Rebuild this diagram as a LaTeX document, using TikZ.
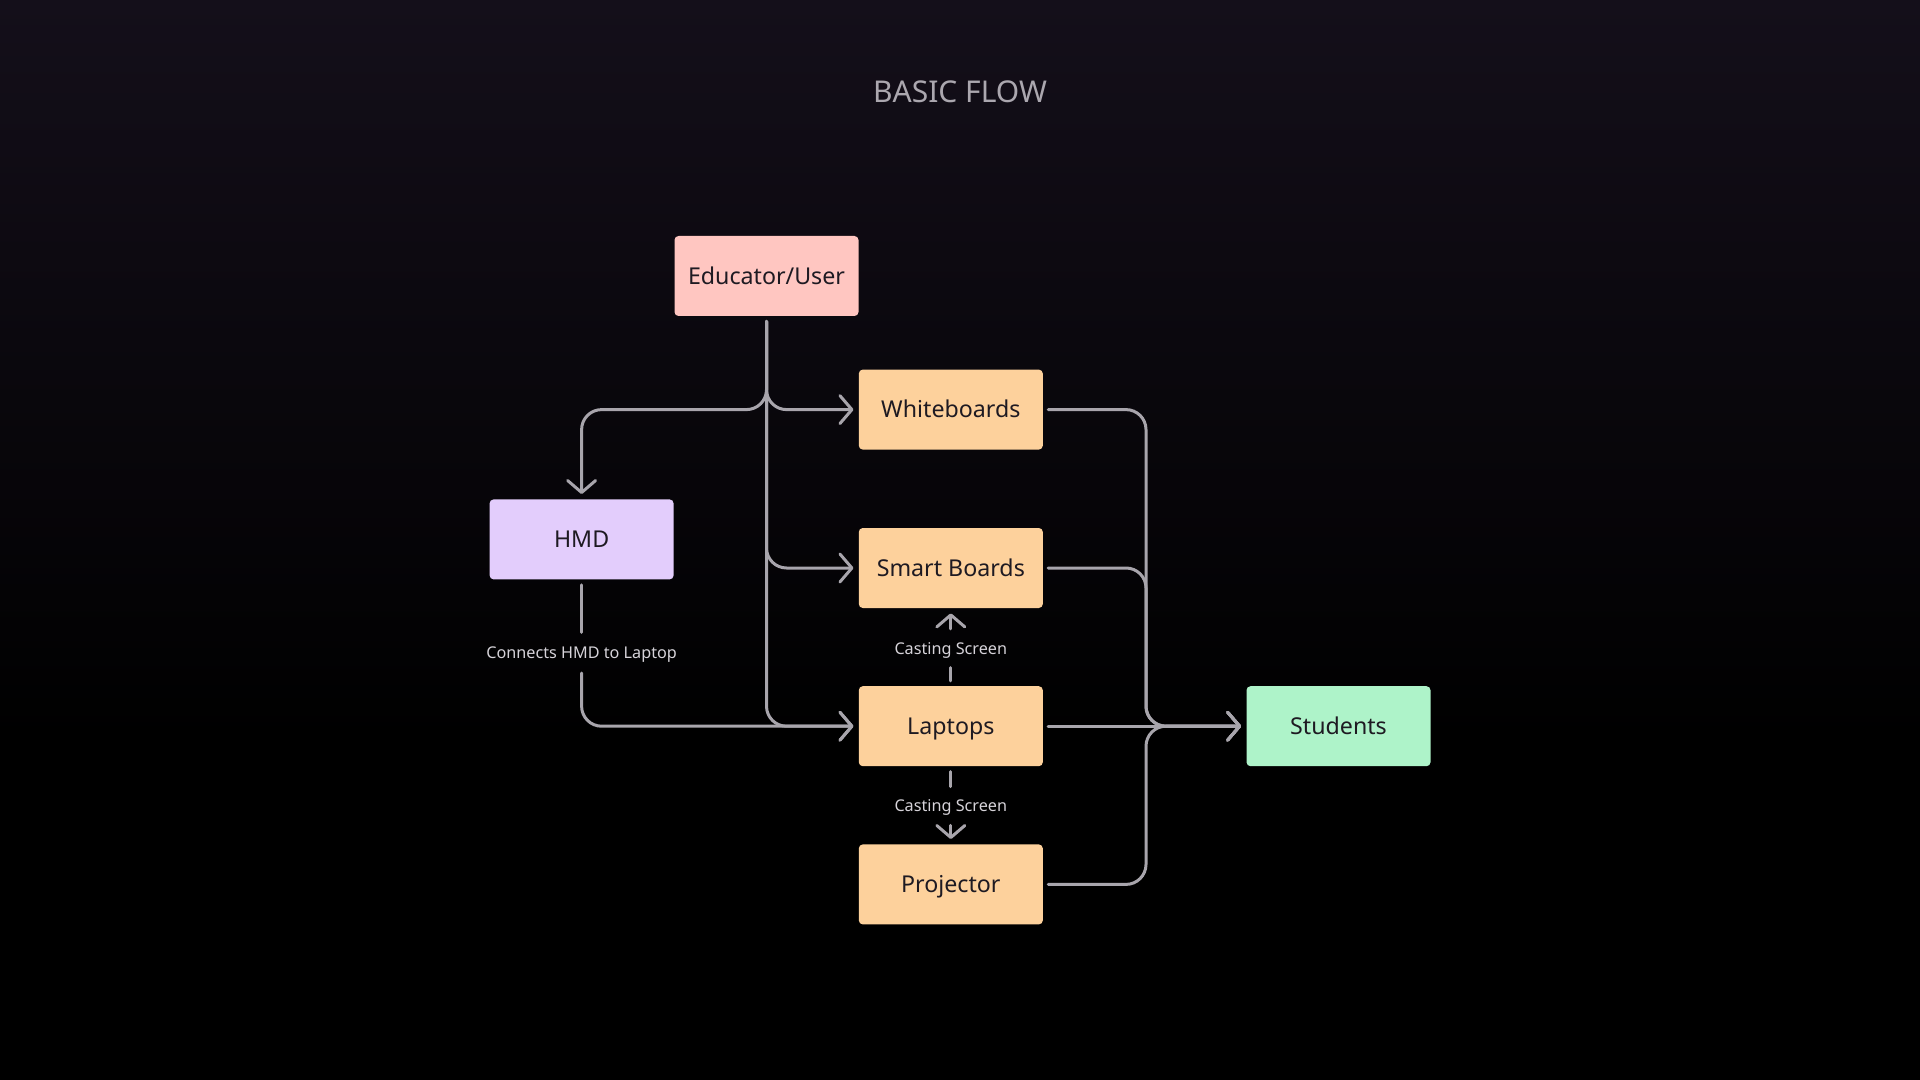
\documentclass[tikz,border=0pt]{standalone}
\usepackage{fontspec}
\setmainfont{Noto Sans}
\usetikzlibrary{arrows.meta}

\definecolor{bgtop}{HTML}{140F1A}
\definecolor{bgmid}{HTML}{0B080E}
\definecolor{edupink}{HTML}{FFC6C1}
\definecolor{devpeach}{HTML}{FDD19C}
\definecolor{hmdlilac}{HTML}{E3CDFC}
\definecolor{stugreen}{HTML}{AEF3C9}
\definecolor{wiregray}{HTML}{A8A5AC}
\definecolor{boxtext}{HTML}{1E1A22}
\definecolor{lbltext}{HTML}{D6D3D9}
\definecolor{titlegray}{HTML}{ABA7AF}

\begin{document}
\begin{tikzpicture}[x=0.5pt, y=-0.5pt,
    box/.style={rounded corners=2pt, minimum width=92pt, minimum height=40pt,
        inner sep=0pt, text=boxtext, text height=8.3pt, text depth=0pt,
        font=\fontsize{11.6}{14}\selectfont},
    lbl/.style={inner sep=0pt, text=lbltext, text height=5.8pt, text depth=0pt,
        font=\fontsize{8.1}{10}\selectfont},
    flow/.style={draw=wiregray, line width=1.5pt, line cap=round, line join=round,
        rounded corners=10pt, shorten <=2.5pt, shorten >=2.5pt},
    flowtip/.style={flow, -{Straight Barb[round, length=6pt, width=14pt]}}]

    % Background
    \useasboundingbox (0,0) rectangle (1920,1080);
    \fill[black] (0,0) rectangle (1920,1080);
    \shade[top color=bgtop, middle color=bgmid, bottom color=black]
        (0,0) rectangle (1920,740);

    % Title
    \node[text=titlegray, font=\fontsize{15}{18}\selectfont, text height=10.7pt,
        text depth=0pt, inner sep=0pt] (title) at (960,91.5) {BASIC FLOW};

    % Boxes
    \node[box, fill=edupink] (edu) at (766.5,276) {Educator/User};
    \node[box, fill=devpeach] (wb) at (950.8,409.6) {Whiteboards};
    \node[box, fill=hmdlilac] (hmd) at (581.6,539.4) {HMD};
    \node[box, fill=devpeach] (sb) at (950.8,568) {Smart Boards};
    \node[box, fill=devpeach] (lap) at (950.8,726.2) {Laptops};
    \node[box, fill=devpeach] (proj) at (950.8,884.4) {Projector};
    \node[box, fill=stugreen] (stu) at (1338.5,726.2) {Students};

    % Connector labels
    \node[lbl, minimum height=20pt] (hmdlbl) at (581.6,652.7) {Connects HMD to Laptop};
    \node[lbl, minimum height=19pt] (cast1) at (950.8,648.3) {Casting Screen};
    \node[lbl, minimum height=19pt] (cast2) at (950.8,806) {Casting Screen};
    \coordinate (merge) at (1146,726.2);

    % Educator to devices
    \draw[flowtip] (edu) -- (edu |- wb) -- (hmd |- wb) -- (hmd);
    \draw[flowtip] (edu) -- (edu |- wb) -- (wb);
    \draw[flowtip] (edu) -- (edu |- sb) -- (sb);
    \draw[flowtip] (edu) -- (edu |- lap) -- (lap);

    % HMD to laptop
    \draw[flow, shorten >=0pt] (hmd) -- (hmdlbl);
    \draw[flowtip, shorten <=0pt] (hmdlbl) |- (lap);

    % Casting screen
    \draw[flow, shorten >=0pt] (lap) -- (cast1);
    \draw[flowtip, shorten <=0pt] (cast1) -- (sb);
    \draw[flow, shorten >=0pt] (lap) -- (cast2);
    \draw[flowtip, shorten <=0pt] (cast2) -- (proj);

    % Devices to students
    \draw[flowtip] (wb) -| (merge) -- (stu);
    \draw[flowtip] (sb) -| (merge) -- (stu);
    \draw[flowtip] (lap) -- (stu);
    \draw[flowtip] (proj) -| (merge) -- (stu);
\end{tikzpicture}
\end{document}
